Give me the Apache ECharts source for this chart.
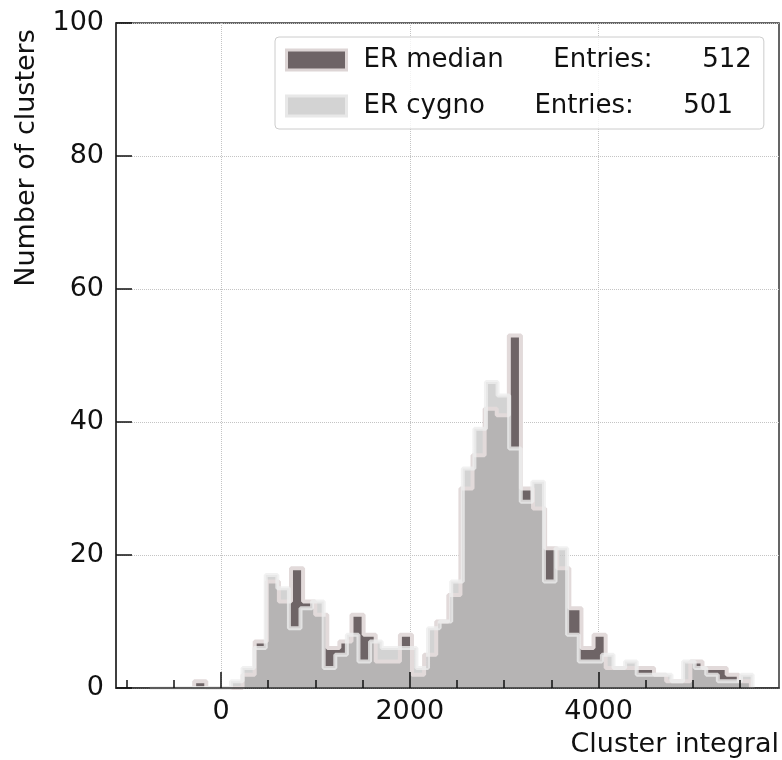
<!DOCTYPE html>
<html>
<head>
<meta charset="utf-8">
<script src="https://cdn.jsdelivr.net/npm/echarts@6/dist/echarts.min.js"></script>
<style>
  html, body { margin: 0; padding: 0; background: #ffffff; }
  #chart { width: 782px; height: 760px; }
</style>
</head>
<body>
<div id="chart"></div>
<script>
// Histogram counts per bin (cluster integral)
const medianCounts = [1, 0, 0, 0, 2, 7, 16, 13, 18, 13, 11, 6, 7, 11, 8, 4, 4, 8, 2, 5,
  10, 14, 30, 35, 42, 41, 53, 30, 27, 21, 18, 12, 6, 8, 3, 3, 3, 3, 2, 1,
  1, 4, 3, 3, 2, 1];
const cygnoCounts = [0, 0, 0, 0, 0, 0, 0, 1, 3, 6, 17, 15, 9, 12, 13, 3, 5, 8, 4, 7,
  6, 6, 6, 3, 9, 10, 16, 33, 39, 46, 44, 36, 28, 31, 16, 21, 8, 4, 4, 5,
  3, 4, 2, 2, 2, 1, 4, 3, 2, 1, 1, 2];

// Binning of each sample (first lower edge and bin width)
const medianFirstEdge = -284;
const medianBinWidth = 128.2;
const cygnoFirstEdge = -754;
const cygnoBinWidth = 122.8;

// Axis ticks
const xMajorTicks = [0, 2000, 4000];
const xMinorTicks = [-1000, -500, 500, 1000, 1500, 2500, 3000, 3500, 4500, 5000, 5500];
const xRange = [-1112, 5911];
const yRange = [0, 100];

const FONT = 'DejaVu Sans';

// Closed step outline of a histogram: [edge, count] pairs, turned into steps by the line series
function stepOutline(firstEdge, width, counts) {
  const pts = [[firstEdge, 0]];
  counts.forEach((c, i) => pts.push([firstEdge + i * width, c]));
  pts.push([firstEdge + counts.length * width, 0]);
  return pts;
}

const sum = arr => arr.reduce((a, b) => a + b, 0);
const gap = '      ';
const medianName = 'ER median' + gap + 'Entries:' + gap + sum(medianCounts);
const cygnoName = 'ER cygno' + gap + 'Entries:' + gap + sum(cygnoCounts);

const chart = echarts.init(document.getElementById('chart'), null, { renderer: 'canvas' });

const baseX = { type: 'value', gridIndex: 0, position: 'bottom', min: xRange[0], max: xRange[1] };
const baseY = { type: 'value', gridIndex: 0, position: 'left', min: yRange[0], max: yRange[1], interval: 20 };
const plain = v => String(v);

chart.setOption({
  animation: false,
  textStyle: { fontFamily: FONT },
  grid: {
    left: 116, right: 3, top: 23, bottom: 72,
    show: true, borderColor: '#333333', borderWidth: 1.5, backgroundColor: 'transparent'
  },
  legend: {
    left: 275, top: 37,
    orient: 'vertical',
    padding: [10, 12, 10, 10],
    itemWidth: 60, itemHeight: 20, itemGap: 20,
    backgroundColor: 'rgba(255,255,255,0.8)',
    borderColor: '#cccccc', borderWidth: 1, borderRadius: 4,
    selectedMode: false,
    textStyle: { fontFamily: FONT, fontSize: 26, color: '#111111', padding: [0, 0, 0, 12] },
    data: [
      { name: medianName, icon: 'rect', itemStyle: { color: '#6e6466', borderColor: '#ddd5d5', borderWidth: 3 } },
      { name: cygnoName, icon: 'rect', itemStyle: { color: '#d3d3d3', borderColor: '#e8e8e8', borderWidth: 3 } }
    ]
  },
  xAxis: [
    // data axis carrying the dotted grid lines
    Object.assign({}, baseX, {
      z: 0,
      axisLine: { show: false, onZero: false },
      axisTick: { show: false, customValues: xMajorTicks },
      axisLabel: { show: false, customValues: xMajorTicks },
      splitLine: { show: true, lineStyle: { color: '#c4c4c4', width: 1, type: 'dotted' } }
    }),
    // major ticks and labels
    Object.assign({}, baseX, {
      z: 5,
      axisLine: { show: true, onZero: false, lineStyle: { color: '#333333', width: 1.5 } },
      axisTick: { show: true, inside: true, length: 16, customValues: xMajorTicks, lineStyle: { color: '#111111', width: 1.5 } },
      axisLabel: { show: true, customValues: xMajorTicks, formatter: plain, margin: 10, fontSize: 27, color: '#111111', fontFamily: FONT },
      splitLine: { show: false }
    }),
    // minor ticks
    Object.assign({}, baseX, {
      z: 5,
      axisLine: { show: false, onZero: false },
      axisTick: { show: true, inside: true, length: 8, customValues: xMinorTicks, lineStyle: { color: '#111111', width: 1.5 } },
      axisLabel: { show: false },
      splitLine: { show: false }
    })
  ],
  yAxis: [
    Object.assign({}, baseY, {
      z: 0,
      axisLine: { show: false, onZero: false },
      axisTick: { show: false },
      axisLabel: { show: false },
      splitLine: { show: true, lineStyle: { color: '#c4c4c4', width: 1, type: 'dotted' } }
    }),
    Object.assign({}, baseY, {
      z: 5,
      axisLine: { show: true, onZero: false, lineStyle: { color: '#333333', width: 1.5 } },
      axisTick: { show: true, inside: true, length: 16, lineStyle: { color: '#111111', width: 1.5 } },
      axisLabel: { show: true, formatter: plain, margin: 12, fontSize: 27, color: '#111111', fontFamily: FONT },
      splitLine: { show: false }
    })
  ],
  series: [
    {
      name: medianName,
      type: 'line',
      xAxisIndex: 0, yAxisIndex: 0,
      step: 'end',
      symbol: 'none',
      clip: true,
      data: stepOutline(medianFirstEdge, medianBinWidth, medianCounts),
      itemStyle: { color: '#6e6466' },
      lineStyle: { color: '#e2dada', width: 4 },
      areaStyle: { color: '#6e6466', opacity: 1 }
    },
    {
      name: cygnoName,
      type: 'line',
      xAxisIndex: 0, yAxisIndex: 0,
      step: 'end',
      symbol: 'none',
      clip: true,
      data: stepOutline(cygnoFirstEdge, cygnoBinWidth, cygnoCounts),
      itemStyle: { color: '#c8c8c8' },
      lineStyle: { color: '#eeeeee', width: 4, opacity: 0.8 },
      areaStyle: { color: '#c8c8c8', opacity: 0.8 }
    }
  ],
  graphic: [
    {
      type: 'text',
      x: 27, y: 158,
      rotation: Math.PI / 2,
      style: {
        text: 'Number of clusters',
        fontFamily: FONT, fontSize: 27, fill: '#111111',
        align: 'center', verticalAlign: 'middle'
      }
    },
    {
      type: 'text',
      x: 779, y: 745,
      style: {
        text: 'Cluster integral',
        fontFamily: FONT, fontSize: 27, fill: '#111111',
        align: 'right', verticalAlign: 'middle'
      }
    }
  ]
});
</script>
</body>
</html>
